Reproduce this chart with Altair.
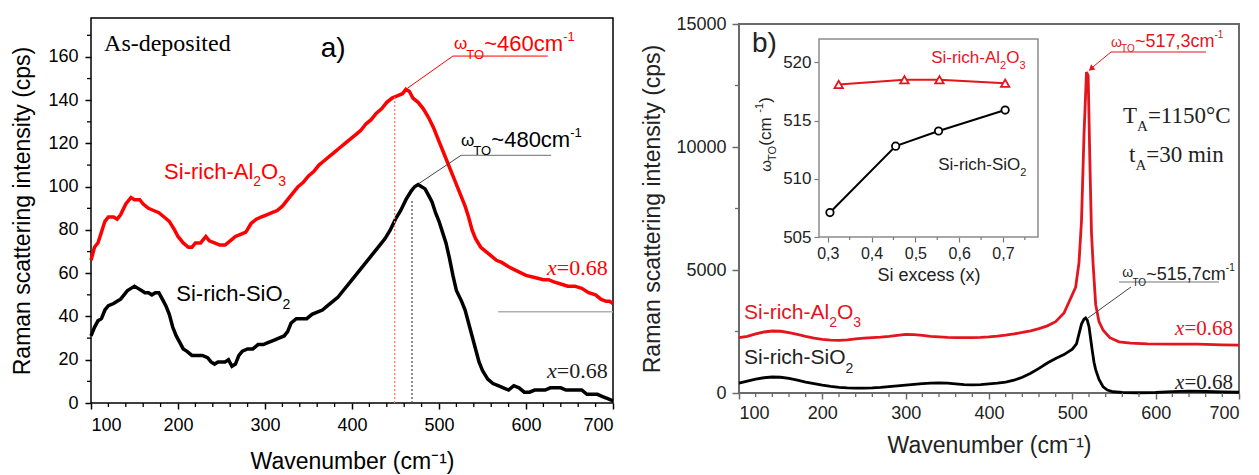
import altair as alt
import pandas as pd

SANS = "Liberation Sans"
SERIF = "Liberation Serif"
RED_A = "#ff0000"
RED_B = "#e3151e"
FRAME_B = "#6a6a6a"

# ---------------- Panel a: as-deposited spectra ----------------
A_RED_X = [100, 104, 108, 112, 116, 120, 126, 130, 134, 140, 146, 150, 156, 160, 166, 172, 178, 184, 190, 196,
           200, 206, 212, 216, 220, 226, 232, 236, 242, 248, 254, 260, 266, 272, 278, 284, 290, 296, 302, 308,
           314, 320, 326, 332, 338, 344, 350, 356, 362, 368, 374, 380, 386, 392, 398, 404, 410, 416, 422, 428,
           434, 440, 446, 452, 458, 462, 466, 470, 476, 482, 488, 494, 500, 506, 512, 518, 524, 530, 534, 538,
           542, 548, 554, 560, 566, 572, 580, 590, 600, 610, 620, 626, 632, 640, 648, 656, 664, 672, 680, 686,
           692, 696, 700]
A_RED_Y = [66, 72, 74, 79, 84, 86, 86, 85, 87, 92, 95, 94, 94, 92, 90, 89, 88, 86, 84, 80,
           77, 74, 72, 72, 74, 74, 77, 75, 74, 73, 73, 75, 77, 78, 79, 83, 85, 86, 87, 88,
           89, 91, 94, 97, 100, 102, 105, 107, 110, 112, 114, 116, 118, 120, 122, 124, 126, 129, 131, 134,
           136, 139, 141, 142, 143, 145, 144, 141, 139, 136, 132, 127, 121, 115, 109, 103, 97, 91, 86, 80,
           76, 72, 70, 68, 66, 65, 63, 61, 59, 58, 57, 57, 56, 55, 54, 54, 53, 51, 50, 48,
           47, 47, 46]

A_BLK_X = [100, 104, 108, 112, 116, 120, 126, 130, 134, 138, 142, 146, 150, 154, 158, 162, 166, 170, 174, 178,
           182, 186, 190, 194, 198, 202, 206, 210, 216, 222, 228, 234, 238, 242, 246, 250, 254, 258, 262, 266,
           270, 274, 280, 286, 292, 298, 304, 310, 316, 322, 326, 330, 336, 342, 348, 354, 360, 366, 372, 378,
           384, 390, 396, 402, 408, 414, 420, 426, 432, 438, 444, 450, 456, 462, 468, 472, 476, 480, 484, 488,
           492, 496, 500, 504, 508, 512, 516, 520, 526, 530, 534, 538, 542, 546, 550, 556, 562, 568, 574, 580,
           586, 592, 598, 604, 610, 616, 622, 628, 634, 640, 646, 652, 658, 664, 670, 676, 682, 688, 694, 700]
A_BLK_Y = [31, 35, 38, 39, 43, 45, 46, 47, 48, 50, 52, 53, 54, 53, 52, 51, 51, 50, 51, 51,
           48, 45, 41, 35, 31, 28, 25, 24, 22, 22, 22, 21, 19, 18, 19, 19, 19, 20, 17, 18,
           22, 24, 25, 25, 27, 27, 28, 29, 30, 31, 33, 37, 39, 39, 39, 41, 42, 43, 45, 47,
           49, 52, 55, 58, 61, 64, 67, 70, 73, 76, 80, 85, 89, 94, 98, 100, 101, 100, 99, 96,
           93, 88, 84, 79, 74, 67, 59, 52, 47, 43, 37, 31, 25, 19, 15, 11, 9, 8, 7, 6,
           8, 7, 5, 5, 6, 6, 6, 7, 7, 7, 6, 6, 6, 6, 4, 4, 4, 3, 2, 1]

# ---------------- Panel b: annealed spectra ----------------
B_RED_X = [100, 110, 120, 130, 140, 150, 160, 170, 180, 190, 200, 210, 220, 230, 240, 250, 260, 270, 280, 290,
           300, 310, 320, 330, 340, 350, 360, 370, 380, 390, 400, 410, 420, 430, 440, 450, 460, 470, 480, 490,
           496, 500, 504, 508, 511, 514, 517, 519, 521, 523, 525, 528, 532, 537, 545, 556, 570, 590, 620, 650,
           680, 700]
B_RED_Y = [2250, 2300, 2400, 2480, 2520, 2510, 2450, 2380, 2300, 2230, 2180, 2150, 2140, 2160, 2200, 2230, 2250,
           2270, 2300, 2340, 2380, 2370, 2340, 2300, 2280, 2260, 2250, 2250, 2250, 2260, 2280, 2310, 2350, 2400,
           2460, 2530, 2620, 2730, 2900, 3250, 3700, 4000, 4300, 5300, 7000, 10500, 13050, 12900, 9500, 6500,
           5200, 3600, 2900, 2550, 2250, 2080, 2030, 2000, 1990, 1990, 1960, 1950]

B_BLK_X = [100, 110, 120, 130, 140, 150, 160, 170, 180, 190, 200, 210, 220, 230, 240, 250, 260, 270, 280, 290,
           300, 310, 320, 330, 340, 350, 360, 370, 380, 390, 400, 410, 420, 430, 440, 450, 460, 470, 480, 490,
           500, 505, 508, 511, 514, 516, 518, 520, 522, 524, 526, 528, 532, 537, 542, 549, 560, 580, 600, 620,
           640, 660, 680, 700]
B_BLK_Y = [400, 480, 560, 620, 650, 640, 590, 520, 440, 380, 320, 270, 230, 210, 200, 200, 210, 230, 260, 290,
           320, 350, 380, 400, 410, 400, 370, 340, 330, 340, 370, 400, 440, 520, 640, 800, 1000, 1220, 1400, 1560,
           1780, 2000, 2400, 2800, 3000, 3050, 2950, 2700, 2200, 1700, 1250, 950, 550, 250, 120, 50, 20, 10, 20, 60,
           80, 60, 40, 30]

# ---------------- Inset: omega_TO vs Si excess ----------------
IN_AL_X = [0.325, 0.475, 0.555, 0.705]
IN_AL_Y = [518.1, 518.5, 518.5, 518.2]
IN_SI_X = [0.305, 0.455, 0.553, 0.705]
IN_SI_Y = [507.1, 512.8, 514.1, 515.9]

# tick values
XA_MAJOR = [100, 200, 300, 400, 500, 600, 700]
XA_MINOR = [v for v in range(120, 700, 20) if v % 100]
YA_MAJOR = [0, 20, 40, 60, 80, 100, 120, 140, 160]
YA_MINOR = [10, 30, 50, 70, 90, 110, 130, 150, 170]
YB_MAJOR = [0, 5000, 10000, 15000]
YB_MINOR = [2500, 7500, 12500]
XI_MAJOR = [0.3, 0.4, 0.5, 0.6, 0.7]
XI_MINOR = [0.35, 0.45, 0.55, 0.65, 0.75]
YI_MAJOR = [505, 510, 515, 520]

# ---------------- helpers ----------------
W_SANS = {' ': .278, '-': .333, '(': .333, ')': .333, ',': .278, '.': .278, '=': .584, '~': .584,
          'A': .667, 'O': .778, 'S': .667, 'T': .611, 'C': .722,
          'a': .556, 'b': .556, 'c': .5, 'd': .556, 'e': .556, 'g': .556, 'h': .556, 'i': .222,
          'l': .222, 'm': .833, 'n': .556, 'o': .556, 'p': .556, 'r': .333, 's': .5, 't': .278,
          'u': .556, 'v': .5, 'x': .5, 'y': .5, 'ω': .72}
W_SERIF = {' ': .25, '-': .333, '=': .564, '.': .25, 'A': .722, 'T': .611, 'C': .667, 'a': .444,
           'd': .5, 'e': .444, 'i': .278, 'm': .778, 'n': .5, 'o': .5, 'p': .5, 's': .389,
           't': .278, 'x': .444, '°': .4}


def tw(s, size, font):
    table = W_SANS if font == SANS else W_SERIF
    return sum(table.get(ch, 0.556 if font == SANS else 0.5) for ch in s) * size


def one(x, y):
    return pd.DataFrame({"x": [x], "y": [y]})


def rich(parts, x, y, color, font, X, Y, align="left"):
    widths = [tw(p[0], p[1], font) for p in parts]
    off = -sum(widths) if align == "right" else 0.0
    out = []
    for (t, s, d, it), wd in zip(parts, widths):
        out.append(alt.Chart(one(x, y)).mark_text(
            text=t, font=font, fontSize=s, fontStyle="italic" if it else "normal",
            color=color, align="left", baseline="alphabetic", dx=off, dy=d
        ).encode(x=X(), y=Y()))
        off += wd
    return out


def seg(x1, y1, x2, y2, X, Y, **kw):
    df = pd.DataFrame({"x": [x1], "y": [y1], "x2": [x2], "y2": [y2]})
    return alt.Chart(df).mark_rule(**kw).encode(x=X(), y=Y(), x2="x2:Q", y2="y2:Q")


# ======================= Panel a =======================
WA, HA = 522, 385
SXA = alt.Scale(domain=[100, 700], nice=False, zero=False)
SYA = alt.Scale(domain=[0, 178], nice=False, zero=False)
AXA = alt.Axis(values=XA_MAJOR, tickSize=6, tickWidth=1.5, tickColor="black", labelFontSize=18,
               labelPadding=7, labelColor="black", title="Wavenumber (cm⁻¹)", titleFontSize=23,
               titlePadding=16, titleColor="black", orient="bottom")
AYA = alt.Axis(values=YA_MAJOR, tickSize=6, tickWidth=1.5, tickColor="black", labelFontSize=18,
               labelPadding=7, labelColor="black", title="Raman scattering intensity (cps)",
               titleFontSize=23, titlePadding=13, titleColor="black", orient="left")
XA = lambda: alt.X("x:Q", scale=SXA, axis=AXA)
YA = lambda: alt.Y("y:Q", scale=SYA, axis=AYA)

layers_a = [
    alt.Chart(pd.DataFrame({"x": A_RED_X, "y": A_RED_Y})).mark_line(color=RED_A, strokeWidth=3.5).encode(
        x=XA(), y=YA()),
    alt.Chart(pd.DataFrame({"x": A_BLK_X, "y": A_BLK_Y})).mark_line(color="black", strokeWidth=3.5).encode(
        x=XA(), y=YA()),
    alt.Chart(pd.DataFrame({"x": XA_MINOR})).mark_tick(orient="vertical", size=4, thickness=1.3,
                                                        color="black", yOffset=2, opacity=1).encode(
        x=XA(), y=alt.value(HA)),
    alt.Chart(pd.DataFrame({"y": YA_MINOR})).mark_tick(orient="horizontal", size=4, thickness=1.3,
                                                        color="black", xOffset=-2, opacity=1).encode(
        y=YA(), x=alt.value(0)),
    seg(449, 0, 449, 142, XA, YA, color="#ff7a7a", strokeDash=[2, 2], strokeWidth=1.3),
    seg(469, 0, 469, 94, XA, YA, color="#555555", strokeDash=[2, 2], strokeWidth=1.3),
    seg(568, 42.2, 700, 42.2, XA, YA, color="#b0b0b0", strokeWidth=1.6),
    seg(516, 160.4, 625, 160.4, XA, YA, color=RED_A, strokeWidth=1),
    seg(516, 160.4, 464, 145.6, XA, YA, color=RED_A, strokeWidth=1),
    seg(525.3, 114.5, 629, 114.5, XA, YA, color="#8a8a8a", strokeWidth=1.2),
    seg(525.3, 114.5, 477, 101.5, XA, YA, color="#444444", strokeWidth=1),
    alt.Chart(one(115, 162.7)).mark_text(text="As-deposited", font=SERIF, fontSize=24, color="black",
                                          align="left", baseline="alphabetic").encode(x=XA(), y=YA()),
    alt.Chart(one(364, 160)).mark_text(text="a)", font=SANS, fontSize=28, color="black",
                                        align="left", baseline="alphabetic").encode(x=XA(), y=YA()),
]
layers_a += rich([("ω", 17, -2, False), ("TO", 13, 8, False), ("~460cm", 22, 0, False), ("-1", 13, -10, False)],
                 517.2, 162.7, RED_A, SANS, XA, YA)
layers_a += rich([("ω", 17, -1, False), ("TO", 13, 8, False), ("~480cm", 22, 0, False), ("-1", 13, -10, False)],
                 525.3, 118.2, "black", SANS, XA, YA)
layers_a += rich([("Si-rich-Al", 22, 0, False), ("2", 14, 7, False), ("O", 22, 0, False), ("3", 14, 7, False)],
                 184, 103.4, RED_A, SANS, XA, YA)
layers_a += rich([("Si-rich-SiO", 22, 0, False), ("2", 14, 8, False)],
                 198, 47, "black", SANS, XA, YA)
layers_a += rich([("x", 22, 0, True), ("=0.68", 22, 0, False)], 694, 59.3, RED_A, SERIF, XA, YA, align="right")
layers_a += rich([("x", 22, 0, True), ("=0.68", 22, 0, False)], 694, 11.6, "#222222", SERIF, XA, YA, align="right")

panel_a = alt.layer(*layers_a).properties(
    width=WA, height=HA, view=alt.ViewBackground(stroke="black", strokeWidth=1.5))

# ======================= Panel b =======================
WB, HB = 500, 375
SXB = alt.Scale(domain=[100, 700], nice=False, zero=False)
SYB = alt.Scale(domain=[0, 15000], range=[HB, 6], nice=False, zero=False)
AXB = alt.Axis(values=XA_MAJOR, tickSize=6, tickWidth=1.5, tickColor=FRAME_B, labelFontSize=18,
               labelPadding=5, labelColor="#222222", title="Wavenumber (cm⁻¹)", titleFontSize=23,
               titlePadding=12, titleColor="#222222", orient="bottom")
AYB = alt.Axis(values=YB_MAJOR, format="d", tickSize=7, tickWidth=1.5, tickColor=FRAME_B, labelFontSize=18,
               labelPadding=6, labelColor="#222222", title="Raman scattering intensity (cps)",
               titleFontSize=23, titlePadding=11, titleColor="#222222", orient="left")
XB = lambda: alt.X("x:Q", scale=SXB, axis=AXB)
YB = lambda: alt.Y("y:Q", scale=SYB, axis=AYB)

layers_b = [
    alt.Chart(pd.DataFrame({"x": [100], "x2": [700], "y": [0], "y2": [15000]})).mark_rect(
        fillOpacity=0, stroke=FRAME_B, strokeWidth=2).encode(x=XB(), y=YB(), x2="x2:Q", y2="y2:Q"),
    alt.Chart(pd.DataFrame({"x": B_BLK_X, "y": B_BLK_Y})).mark_line(color="black", strokeWidth=2.8).encode(
        x=XB(), y=YB()),
    alt.Chart(pd.DataFrame({"x": B_RED_X, "y": B_RED_Y})).mark_line(color=RED_B, strokeWidth=2.8).encode(
        x=XB(), y=YB()),
    alt.Chart(pd.DataFrame({"x": XA_MINOR})).mark_tick(orient="vertical", size=4, thickness=1.3,
                                                        color=FRAME_B, yOffset=2, opacity=1).encode(
        x=XB(), y=alt.value(HB)),
    alt.Chart(pd.DataFrame({"y": YB_MINOR})).mark_tick(orient="horizontal", size=4, thickness=1.3,
                                                        color=FRAME_B, xOffset=-2, opacity=1).encode(
        y=YB(), x=alt.value(0)),
    seg(546.4, 13862, 660.4, 13862, XB, YB, color=RED_B, strokeWidth=1),
    seg(546.4, 13862, 521, 13150, XB, YB, color=RED_B, strokeWidth=1),
    alt.Chart(one(522.5, 13180)).mark_point(shape="triangle-up", filled=True, size=45, angle=229,
                                             color=RED_B, opacity=1).encode(x=XB(), y=YB()),
    seg(556, 4512, 676, 4512, XB, YB, color="#777777", strokeWidth=1.2),
    seg(570.4, 4309, 518.8, 3049, XB, YB, color="#444444", strokeWidth=1),
    alt.Chart(one(115.6, 13862)).mark_text(text="b)", font=SANS, fontSize=28, color="#222222",
                                            align="left", baseline="alphabetic").encode(x=XB(), y=YB()),
]
layers_b += rich([("ω", 14, 0, False), ("TO", 10, 5, False), ("~517,3cm", 18, 0, False), ("-1", 10, -9, False)],
                 546.4, 14065, RED_B, SANS, XB, YB)
layers_b += rich([("ω", 14, -3, False), ("TO", 10, 6, False), ("~515,7cm", 18, 0, False), ("-1", 10, -9, False)],
                 560, 4593, "#222222", SANS, XB, YB)
layers_b += rich([("T", 23, 0, False), ("A", 15, 8, False), ("=1150°C", 23, 0, False)],
                 560.8, 10975, "#222222", SERIF, XB, YB)
layers_b += rich([("t", 23, 0, False), ("A", 15, 8, False), ("=30 min", 23, 0, False)],
                 568, 9390, "#222222", SERIF, XB, YB)
layers_b += rich([("Si-rich-Al", 21, 0, False), ("2", 14, 8, False), ("O", 21, 0, False), ("3", 14, 8, False)],
                 106, 3008, RED_B, SANS, XB, YB)
layers_b += rich([("Si-rich-SiO", 21, 0, False), ("2", 14, 9, False)],
                 106, 1179, "#222222", SANS, XB, YB)
layers_b += rich([("x", 21, 0, True), ("=0.68", 21, 0, False)], 692.8, 2358, RED_B, SERIF, XB, YB, align="right")
layers_b += rich([("x", 21, 0, True), ("=0.68", 21, 0, False)], 692.8, 163, "#222222", SERIF, XB, YB, align="right")

main_b = alt.layer(*layers_b)

# ----- inset -----
SXI = alt.Scale(domain=[0.28, 0.78], range=[80, 299], nice=False, zero=False)
SYI = alt.Scale(domain=[505, 522], range=[219, 21], nice=False, zero=False)
AXI = alt.Axis(orient="bottom", offset=-(HB - 219), values=XI_MAJOR,
               labelExpr="replace(format(datum.value, '.1f'), '.', ',')", tickSize=5, tickWidth=1.2,
               tickColor="#777777", labelFontSize=16, labelPadding=3, labelColor="#222222",
               title="Si excess (x)", titleFontSize=18, titlePadding=5, titleColor="#222222")
AYI = alt.Axis(orient="left", offset=-80, values=YI_MAJOR, tickSize=5, tickWidth=1.2, tickColor="#777777",
               labelFontSize=17, labelPadding=3, labelColor="#222222", title="")
XI = lambda: alt.X("x:Q", scale=SXI, axis=AXI)
YI = lambda: alt.Y("y:Q", scale=SYI, axis=AYI)

layers_i = [
    alt.Chart(pd.DataFrame({"x": [0.28], "x2": [0.78], "y": [505], "y2": [522]})).mark_rect(
        fill="white", stroke="#8c8c8c", strokeWidth=1.5).encode(x=XI(), y=YI(), x2="x2:Q", y2="y2:Q"),
    alt.Chart(pd.DataFrame({"x": XI_MINOR, "y": [505] * len(XI_MINOR)})).mark_tick(
        orient="vertical", size=3, thickness=1.2, color="#777777", yOffset=1.5, opacity=1).encode(
        x=XI(), y=YI()),
    alt.Chart(pd.DataFrame({"x": IN_AL_X, "y": IN_AL_Y})).mark_line(color=RED_B, strokeWidth=2).encode(
        x=XI(), y=YI()),
    alt.Chart(pd.DataFrame({"x": IN_AL_X, "y": IN_AL_Y})).mark_point(
        shape="triangle-up", filled=True, fill="white", stroke=RED_B, strokeWidth=1.8, size=70,
        opacity=1).encode(x=XI(), y=YI()),
    alt.Chart(pd.DataFrame({"x": IN_SI_X, "y": IN_SI_Y})).mark_line(color="black", strokeWidth=2).encode(
        x=XI(), y=YI()),
    alt.Chart(pd.DataFrame({"x": IN_SI_X, "y": IN_SI_Y})).mark_point(
        shape="circle", filled=True, fill="white", stroke="black", strokeWidth=1.8, size=55,
        opacity=1).encode(x=XI(), y=YI()),
]
layers_i += rich([("Si-rich-Al", 17, 0, False), ("2", 11, 6, False), ("O", 17, 0, False), ("3", 11, 6, False)],
                 0.536, 519.9, RED_B, SANS, XI, YI)
layers_i += rich([("Si-rich-SiO", 17, 0, False), ("2", 11, 6, False)],
                 0.552, 510.75, "#222222", SANS, XI, YI)

# rotated inset y-title: omega_TO (cm-1); offsets are in the rotated frame
ytitle_parts = [("ω", 15, 0), ("TO", 11, 5), (" (cm", 17, 0), ("-1", 11, -8), (")", 17, 0)]
off = 0.0
for t, s, shift in ytitle_parts:
    layers_i.append(alt.Chart(one(0.170, 510.6)).mark_text(
        text=t, font=SANS, fontSize=s, color="#222222", angle=270, align="left", baseline="alphabetic",
        dx=off, dy=shift).encode(x=XI(), y=YI()))
    off += tw(t, s, SANS)

inset = alt.layer(*layers_i)

panel_b = alt.layer(main_b, inset).resolve_scale(x="independent", y="independent").properties(
    width=WB, height=HB)

chart = alt.hconcat(panel_a, panel_b, spacing=20).properties(
    padding={"left": 11, "top": 15, "right": 5, "bottom": 5}
).configure_view(stroke=None).configure_axis(
    grid=False, domain=False, labelFont=SANS, titleFont=SANS, titleFontWeight="normal"
)

chart.save("out.html", embed_options={"renderer": "svg", "actions": False})
